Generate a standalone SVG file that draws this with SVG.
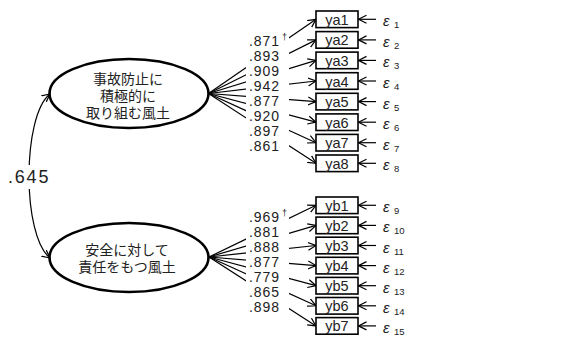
<svg xmlns="http://www.w3.org/2000/svg" width="563" height="338" viewBox="0 0 563 338">
<style>
.lat{fill:none;stroke:#000;stroke-width:2.6}
.box{fill:#fff;stroke:#000;stroke-width:1.6}
.ln{fill:none;stroke:#000;stroke-width:1.2}
.jp{font-family:"Noto Sans CJK JP",sans-serif;font-size:14px;fill:#222;text-anchor:middle}
.bt{font-family:"Liberation Sans",Arial,sans-serif;font-size:14.5px;fill:#222;text-anchor:middle}
.ld{font-family:"Liberation Sans",Arial,sans-serif;font-size:14px;fill:#222;letter-spacing:0.9px}
.dg{font-family:"Liberation Sans",Arial,sans-serif;font-size:9px;fill:#222}
.eps{font-family:"Liberation Sans",Arial,sans-serif;font-style:italic;font-size:15px;fill:#222}
.sub{font-family:"Liberation Sans",Arial,sans-serif;font-size:9.5px;fill:#222}
.bg{fill:#fff}
</style>
<defs>
<marker id="ah" markerUnits="userSpaceOnUse" markerWidth="10" markerHeight="10" refX="8" refY="4" orient="auto-start-reverse" viewBox="0 0 10 8">
<path d="M0,0 L8,4 L0,8" fill="none" stroke="#000" stroke-width="1.2"/>
</marker>
</defs>
<g id="connectors">
<path class="ln" d="M50,94 C22,116 22,236 50,258" marker-start="url(#ah)" marker-end="url(#ah)"/>
<line class="ln" x1="208.5" y1="93.5" x2="316" y2="19.3" marker-end="url(#ah)"/>
<line class="ln" x1="208.5" y1="93.5" x2="316" y2="39.9" marker-end="url(#ah)"/>
<line class="ln" x1="208.5" y1="93.5" x2="316" y2="60.4" marker-end="url(#ah)"/>
<line class="ln" x1="208.5" y1="93.5" x2="316" y2="81.0" marker-end="url(#ah)"/>
<line class="ln" x1="208.5" y1="93.5" x2="316" y2="101.6" marker-end="url(#ah)"/>
<line class="ln" x1="208.5" y1="93.5" x2="316" y2="122.2" marker-end="url(#ah)"/>
<line class="ln" x1="208.5" y1="93.5" x2="316" y2="142.7" marker-end="url(#ah)"/>
<line class="ln" x1="208.5" y1="93.5" x2="316" y2="163.3" marker-end="url(#ah)"/>
<line class="ln" x1="209" y1="257" x2="316" y2="205.3" marker-end="url(#ah)"/>
<line class="ln" x1="209" y1="257" x2="316" y2="225.4" marker-end="url(#ah)"/>
<line class="ln" x1="209" y1="257" x2="316" y2="245.5" marker-end="url(#ah)"/>
<line class="ln" x1="209" y1="257" x2="316" y2="265.6" marker-end="url(#ah)"/>
<line class="ln" x1="209" y1="257" x2="316" y2="285.7" marker-end="url(#ah)"/>
<line class="ln" x1="209" y1="257" x2="316" y2="305.8" marker-end="url(#ah)"/>
<line class="ln" x1="209" y1="257" x2="316" y2="325.9" marker-end="url(#ah)"/>
<line class="ln" x1="376" y1="19.3" x2="358.5" y2="19.3" marker-end="url(#ah)"/>
<line class="ln" x1="376" y1="39.9" x2="358.5" y2="39.9" marker-end="url(#ah)"/>
<line class="ln" x1="376" y1="60.4" x2="358.5" y2="60.4" marker-end="url(#ah)"/>
<line class="ln" x1="376" y1="81.0" x2="358.5" y2="81.0" marker-end="url(#ah)"/>
<line class="ln" x1="376" y1="101.6" x2="358.5" y2="101.6" marker-end="url(#ah)"/>
<line class="ln" x1="376" y1="122.2" x2="358.5" y2="122.2" marker-end="url(#ah)"/>
<line class="ln" x1="376" y1="142.7" x2="358.5" y2="142.7" marker-end="url(#ah)"/>
<line class="ln" x1="376" y1="163.3" x2="358.5" y2="163.3" marker-end="url(#ah)"/>
<line class="ln" x1="376" y1="205.3" x2="358.5" y2="205.3" marker-end="url(#ah)"/>
<line class="ln" x1="376" y1="225.4" x2="358.5" y2="225.4" marker-end="url(#ah)"/>
<line class="ln" x1="376" y1="245.5" x2="358.5" y2="245.5" marker-end="url(#ah)"/>
<line class="ln" x1="376" y1="265.6" x2="358.5" y2="265.6" marker-end="url(#ah)"/>
<line class="ln" x1="376" y1="285.7" x2="358.5" y2="285.7" marker-end="url(#ah)"/>
<line class="ln" x1="376" y1="305.8" x2="358.5" y2="305.8" marker-end="url(#ah)"/>
<line class="ln" x1="376" y1="325.9" x2="358.5" y2="325.9" marker-end="url(#ah)"/>
</g>
<g id="labels">
<rect class="bg" x="5" y="165" width="48" height="24"/>
<text x="8" y="183" font-family="Liberation Sans, Arial, sans-serif" font-size="18" fill="#222" letter-spacing="1.8">.645</text>
<rect class="bg" x="246" y="33.5" width="43" height="121"/>
<text class="ld" x="249" y="45.7">.871</text><text class="dg" x="282" y="39.5">†</text>
<text class="ld" x="249" y="60.8">.893</text>
<text class="ld" x="249" y="75.9">.909</text>
<text class="ld" x="249" y="91.0">.942</text>
<text class="ld" x="249" y="106.1">.877</text>
<text class="ld" x="249" y="121.2">.920</text>
<text class="ld" x="249" y="136.3">.897</text>
<text class="ld" x="249" y="151.4">.861</text>
<rect class="bg" x="246" y="209.5" width="43" height="106"/>
<text class="ld" x="249" y="221.6">.969</text><text class="dg" x="282" y="215.5">†</text>
<text class="ld" x="249" y="236.6">.881</text>
<text class="ld" x="249" y="251.6">.888</text>
<text class="ld" x="249" y="266.6">.877</text>
<text class="ld" x="249" y="281.6">.779</text>
<text class="ld" x="249" y="296.6">.865</text>
<text class="ld" x="249" y="311.6">.898</text>
</g>
<g id="F1">
<ellipse class="lat" cx="129" cy="93.5" rx="79.5" ry="34.5"/>
<text class="jp" x="128" y="83.6">事故防止に</text>
<text class="jp" x="128" y="100.6">積極的に</text>
<text class="jp" x="128" y="118">取り組む風土</text>
</g>
<g id="F2">
<ellipse class="lat" cx="129" cy="257.5" rx="79.5" ry="34.5"/>
<text class="jp" x="127" y="255.3">安全に対して</text>
<text class="jp" x="127" y="272">責任をもつ風土</text>
</g>
<g id="ya1"><rect class="box" x="316" y="11" width="42" height="16.6"/><text class="bt" x="337" y="24.8">ya1</text></g>
<g id="ya2"><rect class="box" x="316" y="31.6" width="42" height="16.6"/><text class="bt" x="337" y="45.4">ya2</text></g>
<g id="ya3"><rect class="box" x="316" y="52.1" width="42" height="16.6"/><text class="bt" x="337" y="65.9">ya3</text></g>
<g id="ya4"><rect class="box" x="316" y="72.7" width="42" height="16.6"/><text class="bt" x="337" y="86.5">ya4</text></g>
<g id="ya5"><rect class="box" x="316" y="93.3" width="42" height="16.6"/><text class="bt" x="337" y="107.1">ya5</text></g>
<g id="ya6"><rect class="box" x="316" y="113.9" width="42" height="16.6"/><text class="bt" x="337" y="127.7">ya6</text></g>
<g id="ya7"><rect class="box" x="316" y="134.4" width="42" height="16.6"/><text class="bt" x="337" y="148.2">ya7</text></g>
<g id="ya8"><rect class="box" x="316" y="155" width="42" height="16.6"/><text class="bt" x="337" y="168.8">ya8</text></g>
<g id="yb1"><rect class="box" x="316" y="197" width="42" height="16.6"/><text class="bt" x="337" y="210.8">yb1</text></g>
<g id="yb2"><rect class="box" x="316" y="217.1" width="42" height="16.6"/><text class="bt" x="337" y="230.9">yb2</text></g>
<g id="yb3"><rect class="box" x="316" y="237.2" width="42" height="16.6"/><text class="bt" x="337" y="251">yb3</text></g>
<g id="yb4"><rect class="box" x="316" y="257.3" width="42" height="16.6"/><text class="bt" x="337" y="271.1">yb4</text></g>
<g id="yb5"><rect class="box" x="316" y="277.4" width="42" height="16.6"/><text class="bt" x="337" y="291.2">yb5</text></g>
<g id="yb6"><rect class="box" x="316" y="297.5" width="42" height="16.6"/><text class="bt" x="337" y="311.3">yb6</text></g>
<g id="yb7"><rect class="box" x="316" y="317.6" width="42" height="16.6"/><text class="bt" x="337" y="331.4">yb7</text></g>
<g id="errors">
<text class="eps" x="383" y="26.3">ε</text><text class="sub" x="394" y="28.3">1</text>
<text class="eps" x="383" y="46.9">ε</text><text class="sub" x="394" y="48.9">2</text>
<text class="eps" x="383" y="67.4">ε</text><text class="sub" x="394" y="69.4">3</text>
<text class="eps" x="383" y="88">ε</text><text class="sub" x="394" y="90">4</text>
<text class="eps" x="383" y="108.6">ε</text><text class="sub" x="394" y="110.6">5</text>
<text class="eps" x="383" y="129.2">ε</text><text class="sub" x="394" y="131.2">6</text>
<text class="eps" x="383" y="149.7">ε</text><text class="sub" x="394" y="151.7">7</text>
<text class="eps" x="383" y="170.3">ε</text><text class="sub" x="394" y="172.3">8</text>
<text class="eps" x="383" y="212.3">ε</text><text class="sub" x="394" y="214.3">9</text>
<text class="eps" x="383" y="232.4">ε</text><text class="sub" x="394" y="234.4">10</text>
<text class="eps" x="383" y="252.5">ε</text><text class="sub" x="394" y="254.5">11</text>
<text class="eps" x="383" y="272.6">ε</text><text class="sub" x="394" y="274.6">12</text>
<text class="eps" x="383" y="292.7">ε</text><text class="sub" x="394" y="294.7">13</text>
<text class="eps" x="383" y="312.8">ε</text><text class="sub" x="394" y="314.8">14</text>
<text class="eps" x="383" y="332.9">ε</text><text class="sub" x="394" y="334.9">15</text>
</g>
</svg>
